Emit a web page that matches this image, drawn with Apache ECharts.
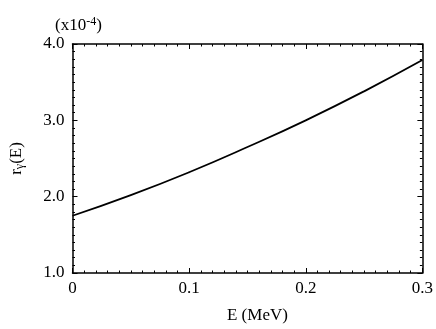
<!DOCTYPE html>
<html>
<head>
<meta charset="utf-8">
<script src="https://cdn.jsdelivr.net/npm/echarts@6/dist/echarts.min.js"></script>
<style>
html, body { margin: 0; padding: 0; background: #fff; }
#chart { width: 436px; height: 329px; }
</style>
</head>
<body>
<div id="chart"></div>
<script>
    "use strict";
    // energy (MeV) and r_gamma(E) in units of 1e-4
    var energy = [0, 0.05, 0.1, 0.15, 0.2, 0.25, 0.3];
    var rGamma = [1.75, 2.02, 2.32, 2.65, 3.00, 3.38, 3.79];
    var xTicks = [0, 0.1, 0.2, 0.3];
    var yTicks = [1.0, 2.0, 3.0, 4.0];

    var font = "'Liberation Serif', 'DejaVu Serif', serif";
    var points = energy.map(function (e, i) { return [e, rGamma[i]]; });

    var myChart = echarts.init(document.getElementById('chart'));

    var tickLine = { color: '#000', width: 1 };

    function xAxis(pos, show) {
        return {
            type: 'value', position: pos, min: 0, max: 0.3, interval: 0.1,
            axisLine: { show: true, onZero: false, lineStyle: { color: '#000', width: 1.5 } },
            axisTick: { show: true, inside: true, length: 5, lineStyle: tickLine },
            minorTick: { show: true, splitNumber: 10, length: 2.5, lineStyle: tickLine },
            splitLine: { show: false },
            axisLabel: {
                show: show, color: '#000', fontFamily: font, fontSize: 17, margin: 7,
                formatter: function (v) {
                    var hit = xTicks.filter(function (t) { return Math.abs(t - v) < 1e-9; });
                    return hit.length ? (hit[0] === 0 ? '0' : hit[0].toFixed(1)) : '';
                }
            },
            name: show ? 'E (MeV)' : '', nameLocation: 'middle', nameGap: 34,
            nameTextStyle: { color: '#000', fontFamily: font, fontSize: 17, padding: [0, 0, 0, 20] }
        };
    }

    function yAxis(pos, show) {
        return {
            type: 'value', position: pos, min: 1, max: 4, interval: 1,
            axisLine: { show: true, onZero: false, lineStyle: { color: '#000', width: 1.5 } },
            axisTick: { show: true, inside: true, length: 5, lineStyle: tickLine },
            minorTick: { show: true, splitNumber: 10, length: 2.5, lineStyle: tickLine },
            splitLine: { show: false },
            axisLabel: {
                show: show, color: '#000', fontFamily: font, fontSize: 17, margin: 8,
                formatter: function (v) {
                    var hit = yTicks.filter(function (t) { return Math.abs(t - v) < 1e-9; });
                    return hit.length ? hit[0].toFixed(1) : '';
                }
            },
            name: show ? '{r|r}{s|γ}{r|(E)}' : '', nameLocation: 'middle', nameGap: 47, nameRotate: 90,
            nameTextStyle: {
                color: '#000', fontFamily: font, fontSize: 17,
                rich: {
                    r: { fontFamily: font, fontSize: 17, color: '#000' },
                    s: { fontFamily: font, fontSize: 12, color: '#000', verticalAlign: 'bottom', padding: [6, 0, 0, 0] }
                }
            }
        };
    }

    var option = {
        backgroundColor: '#fff',
        animation: false,
        title: {
            text: '{a|(x10}{b|-4}{a|)}',
            left: 50, top: 11,
            textStyle: {
                fontWeight: 'normal',
                rich: {
                    a: { fontFamily: font, fontSize: 17, fontWeight: 'normal', color: '#000' },
                    b: { fontFamily: font, fontSize: 12, fontWeight: 'normal', color: '#000', verticalAlign: 'top', padding: [0, 0, 8, 0] }
                }
            }
        },
        grid: { left: 68, right: 13, top: 44, bottom: 55, containLabel: false },
        xAxis: [xAxis('bottom', true), xAxis('top', false)],
        yAxis: [yAxis('left', true), yAxis('right', false)],
        series: [{
            type: 'line',
            data: points,
            smooth: true,
            showSymbol: false,
            lineStyle: { color: '#000', width: 1.8 }
        }]
    };

    myChart.setOption(option);
</script>
</body>
</html>
